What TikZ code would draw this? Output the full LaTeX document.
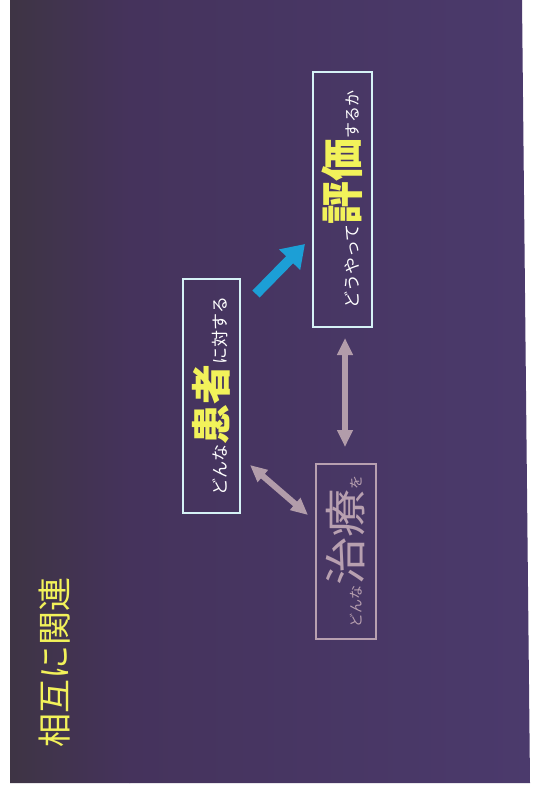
\documentclass[tikz,border=0pt]{standalone}
\usepackage{fontspec}
\setmainfont{Noto Sans CJK JP}
\usetikzlibrary{arrows.meta}
\definecolor{bgL}{HTML}{3E3444}
\definecolor{bgM}{HTML}{45335C}
\definecolor{bgR}{HTML}{4B3A6C}
\definecolor{yel}{HTML}{F2F25A}
\definecolor{frameW}{HTML}{D6F2F6}
\definecolor{frameP}{HTML}{B8A0B0}
\definecolor{arrB}{HTML}{1C9FD6}
\definecolor{arrG}{HTML}{B29CAA}
\tikzset{
  vbox/.style={draw, line width=2pt, rotate=90, inner sep=0pt, align=center},
  dbl/.style={arrG, line width=6pt, {Triangle[length=17pt,width=15pt]}-{Triangle[length=17pt,width=15pt]}},
}
\begin{document}
\begin{tikzpicture}[x=1pt,y=-1pt]
\useasboundingbox (0,0) rectangle (533,792);
\fill[white] (0,0) rectangle (533,792);
\begin{scope}
\clip (10,0) -- (522,0) -- (530,783) -- (10,783) -- cycle;
\shade[left color=bgL, right color=bgM] (9,0) rectangle (130,784);
\shade[left color=bgM, right color=bgR] (129.5,0) rectangle (531,784);
\end{scope}
% title
\node[rotate=90, text=yel, inner sep=0pt] (title) at (55,662)
  {\fontsize{34}{34}\selectfont 相互に関連};
% box 1
\node[vbox, frameW, minimum width=234pt, minimum height=57pt, text=white] (patient) at (211.5,396)
  {{\fontsize{17}{17}\selectfont どんな}{\fontsize{40}{40}\selectfont\bfseries\color{yel}患者}{\fontsize{17}{17}\selectfont に対する}};
% box 2
\node[vbox, frameW, minimum width=255pt, minimum height=59pt, text=white] (eval) at (342.5,199.5)
  {{\fontsize{17}{17}\selectfont どうやって}{\fontsize{43}{43}\selectfont\bfseries\color{yel}評価}{\fontsize{16}{16}\selectfont するか}};
% box 3
\node[vbox, frameP, minimum width=175pt, minimum height=60pt, text=frameP] (treat) at (346,551.5)
  {{\fontsize{14}{14}\selectfont どんな}{\fontsize{42}{42}\selectfont\scalebox{1.15}[1]{治療}}{\fontsize{14}{14}\selectfont を}};
% arrows
\coordinate (b1) at (256,294);
\coordinate (b2) at (305,244);
\draw[arrB, line width=10pt, -{Triangle[length=22pt,width=28pt]}] (b1) -- (b2);
\coordinate (v1) at (345,338);
\coordinate (v2) at (345,447);
\draw[dbl] (v1) -- (v2);
\coordinate (d1) at (250,465);
\coordinate (d2) at (308,515);
\draw[dbl] (d1) -- (d2);
\end{tikzpicture}
\end{document}
